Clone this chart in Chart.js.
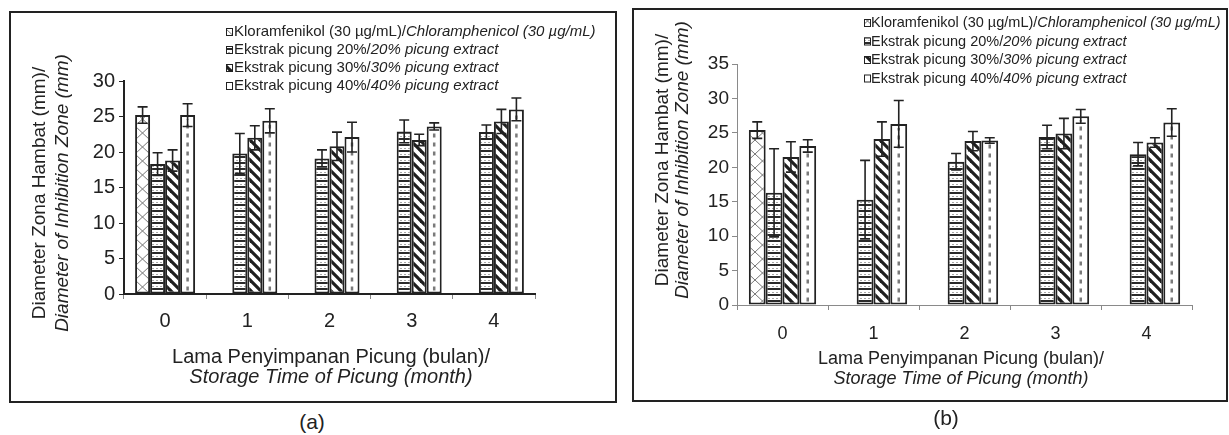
<!DOCTYPE html>
<html>
<head>
<meta charset="utf-8">
<script src="https://cdn.jsdelivr.net/npm/chart.js@4.4.1/dist/chart.umd.min.js"></script>
<style>
  html, body { margin: 0; padding: 0; background: #fff; }
  body { width: 1229px; height: 435px; position: relative; overflow: hidden; font-family: "Liberation Sans", Arial, sans-serif; }
  .frame { position: absolute; border: 2px solid #222; box-sizing: border-box; }
  #frameA { left: 9px; top: 11px; width: 608px; height: 392px; }
  #frameB { left: 632px; top: 8px; width: 596px; height: 394px; }
  canvas { position: absolute; top: 0; }
  #chartA { left: 0; }
  #chartB { left: 620px; }
  .tag { position: absolute; font-size: 21px; color: #222; transform: translate(-50%, -50%); }
</style>
</head>
<body>
<div class="frame" id="frameA"></div>
<div class="frame" id="frameB"></div>
<canvas id="chartA" width="620" height="410"></canvas>
<canvas id="chartB" width="609" height="410"></canvas>
<div class="tag" style="left:312px; top:422px;">(a)</div>
<div class="tag" style="left:946px; top:418px;">(b)</div>
<script>
const months = ['0', '1', '2', '3', '4'];
const legendMain = ['Kloramfenikol (30 µg/mL)/', 'Ekstrak picung 20%/', 'Ekstrak picung 30%/', 'Ekstrak picung 40%/'];
const legendItalic = ['Chloramphenicol (30 µg/mL)', '20% picung extract', '30% picung extract', '40% picung extract'];
const xTitle = ['Lama Penyimpanan Picung (bulan)/', 'Storage Time of Picung (month)'];
const yTitle = ['Diameter Zona Hambat (mm)/', 'Diameter of Inhibition Zone (mm)'];

// panel (a)
const aChlor = [25.2, null, null, null, null];
const aChlorSd = [1.15, null, null, null, null];
const a20 = [18.3, 19.8, 19.1, 22.9, 22.8];
const a20Sd = [1.6, 2.8, 1.2, 1.6, 1.0];
const a30 = [18.8, 22.0, 20.8, 21.7, 24.3];
const a30Sd = [1.5, 1.7, 2.0, 0.8, 1.7];
const a40 = [25.2, 24.4, 22.1, 23.6, 26.0];
const a40Sd = [1.6, 1.7, 2.1, 0.5, 1.6];
const aYMax = 30;

// panel (b)
const bChlor = [25.4, null, null, null, null];
const bChlorSd = [1.2, null, null, null, null];
const b20 = [16.3, 15.3, 20.8, 24.4, 21.9];
const b20Sd = [6.4, 5.7, 1.2, 1.7, 1.7];
const b30 = [21.5, 24.1, 23.8, 24.9, 23.6];
const b30Sd = [2.2, 2.5, 1.4, 2.2, 0.7];
const b40 = [23.1, 26.3, 23.9, 27.4, 26.5];
const b40Sd = [0.9, 3.4, 0.4, 1.0, 2.0];
const bYMax = 35;
const yStep = 5;

const FONT = '"Liberation Sans", Arial, sans-serif';
const INK = '#222';

function tile(w, h, draw) {
    const c = document.createElement('canvas');
    c.width = w;
    c.height = h;
    const g = c.getContext('2d');
    g.fillStyle = '#fff';
    g.fillRect(0, 0, w, h);
    draw(g);
    return g.createPattern(c, 'repeat');
}

// fills: chevron lattice, horizontal stripes, thick back-diagonals, plain white (dashes added later)
const fills = [
    tile(15, 14, g => {
        g.strokeStyle = '#777';
        g.lineWidth = 1;
        g.beginPath();
        g.moveTo(0, 0); g.lineTo(15, 14);
        g.moveTo(15, 0); g.lineTo(0, 14);
        g.stroke();
    }),
    tile(4, 6, g => {
        g.fillStyle = '#2a2a2a';
        g.fillRect(0, 0, 4, 2);
        g.fillStyle = '#a8a8a8';
        g.fillRect(0, 4, 2, 1);
    }),
    tile(10, 10, g => {
        g.strokeStyle = '#1e1e1e';
        g.lineWidth = 3.2;
        for (let k = -1; k <= 1; k++) {
            g.beginPath();
            g.moveTo(k * 10 - 1, -1);
            g.lineTo(k * 10 + 11, 11);
            g.stroke();
        }
    }),
    '#fff'
];

const barMarks = {
    id: 'barMarks',
    afterDatasetsDraw(chart) {
        const ctx = chart.ctx;
        const y = chart.scales.y;
        ctx.save();
        chart.data.datasets.forEach((ds, i) => {
            const meta = chart.getDatasetMeta(i);
            meta.data.forEach((bar, j) => {
                if (ds.data[j] == null || !ds.centerDash) return;
                ctx.strokeStyle = '#7a7a7a';
                ctx.lineWidth = 2.5;
                ctx.setLineDash([4, 5]);
                ctx.beginPath();
                ctx.moveTo(bar.x, bar.base - 3);
                ctx.lineTo(bar.x, bar.y + 4);
                ctx.stroke();
                ctx.setLineDash([]);
            });
        });
        chart.data.datasets.forEach((ds, i) => {
            const meta = chart.getDatasetMeta(i);
            meta.data.forEach((bar, j) => {
                const v = ds.data[j], e = ds.errors[j];
                if (v == null || e == null) return;
                const top = y.getPixelForValue(v + e);
                const bot = y.getPixelForValue(v - e);
                ctx.strokeStyle = INK;
                ctx.lineWidth = 1.6;
                ctx.beginPath();
                ctx.moveTo(bar.x, top); ctx.lineTo(bar.x, bot);
                ctx.moveTo(bar.x - 5, top); ctx.lineTo(bar.x + 5, top);
                ctx.moveTo(bar.x - 5, bot); ctx.lineTo(bar.x + 5, bot);
                ctx.stroke();
            });
        });
        ctx.restore();
    }
};

function panelText(t) {
    return {
        id: 'panelText',
        afterDraw(chart) {
            const ctx = chart.ctx;
            ctx.save();
            ctx.fillStyle = INK;
            ctx.textBaseline = 'middle';
            ctx.textAlign = 'center';

            // y title, two lines, second italic
            [0, 1].forEach(k => {
                ctx.save();
                ctx.translate(t.yTitleX[k], t.yTitleMid);
                ctx.rotate(-Math.PI / 2);
                ctx.font = (k ? 'italic ' : '') + t.yTitleSize + 'px ' + FONT;
                ctx.fillText(yTitle[k], 0, 0);
                ctx.restore();
            });

            // x title
            [0, 1].forEach(k => {
                ctx.font = (k ? 'italic ' : '') + t.xTitleSize + 'px ' + FONT;
                ctx.fillText(xTitle[k], t.xTitleMid, t.xTitleY[k]);
            });

            // legend
            ctx.textAlign = 'left';
            legendMain.forEach((label, k) => {
                const ry = t.legendY + k * t.legendStep;
                ctx.fillStyle = fills[k];
                ctx.fillRect(t.legendBoxX, ry - 4, 6, 7);
                ctx.strokeStyle = INK;
                ctx.lineWidth = 1;
                ctx.strokeRect(t.legendBoxX + 0.5, ry - 3.5, 6, 7);
                ctx.fillStyle = INK;
                ctx.font = t.legendSize + 'px ' + FONT;
                ctx.fillText(label, t.legendTextX, ry);
                const w = ctx.measureText(label).width;
                ctx.font = 'italic ' + t.legendSize + 'px ' + FONT;
                ctx.fillText(legendItalic[k], t.legendTextX + w, ry);
            });
            ctx.restore();
        }
    };
}

function makePanel(id, series, errors, yMax, lay) {
    const datasets = series.map((data, k) => ({
        label: legendMain[k] + legendItalic[k],
        data: data,
        errors: errors[k],
        centerDash: k === 3,
        backgroundColor: fills[k],
        borderColor: INK,
        borderWidth: 2,
        borderSkipped: false,
        barPercentage: 1,
        categoryPercentage: lay.catPct
    }));

    return new Chart(document.getElementById(id), {
        type: 'bar',
        data: { labels: months, datasets: datasets },
        options: {
            responsive: false,
            animation: false,
            devicePixelRatio: 1,
            layout: { padding: { left: 0, top: lay.top, right: lay.right, bottom: 0 } },
            plugins: { legend: { display: false }, tooltip: { enabled: false } },
            scales: {
                x: {
                    grid: { drawOnChartArea: false, color: '#888', tickLength: 5 },
                    border: { color: lay.axisColor, width: lay.axisWidth },
                    ticks: { color: INK, font: { family: FONT, size: lay.xTickSize }, padding: lay.xTickPad },
                    afterFit(s) { s.height = lay.xHeight; }
                },
                y: {
                    min: 0,
                    max: yMax,
                    grid: { drawOnChartArea: false, color: lay.axisColor, tickLength: 5 },
                    border: { color: lay.axisColor, width: lay.axisWidth },
                    ticks: { stepSize: yStep, color: INK, font: { family: FONT, size: lay.yTickSize }, padding: lay.yTickPad },
                    afterFit(s) { s.width = lay.yWidth; }
                }
            }
        },
        plugins: [barMarks, panelText(lay.text)]
    });
}

makePanel('chartA',
    [aChlor, a20, a30, a40],
    [aChlorSd, a20Sd, a30Sd, a40Sd],
    aYMax,
    {
        catPct: 0.73, top: 81, right: 85, xHeight: 116, yWidth: 124,
        axisColor: '#222', axisWidth: 2, xTickSize: 20, yTickSize: 20, xTickPad: 10, yTickPad: 4,
        text: {
            yTitleX: [40, 63], yTitleMid: 193, yTitleSize: 19,
            xTitleMid: 331, xTitleY: [357, 377], xTitleSize: 20,
            legendBoxX: 226, legendTextX: 234, legendY: 32, legendStep: 18, legendSize: 15
        }
    });

makePanel('chartB',
    [bChlor, b20, b30, b40],
    [bChlorSd, b20Sd, b30Sd, b40Sd],
    bYMax,
    {
        catPct: 0.74, top: 64, right: 37, xHeight: 105, yWidth: 117,
        axisColor: '#8a8a8a', axisWidth: 1, xTickSize: 18, yTickSize: 19, xTickPad: 13, yTickPad: 3,
        text: {
            yTitleX: [43, 63], yTitleMid: 160, yTitleSize: 19,
            xTitleMid: 341, xTitleY: [359, 379], xTitleSize: 18,
            legendBoxX: 244, legendTextX: 251, legendY: 23, legendStep: 18.5, legendSize: 14.5
        }
    });
</script>
</body>
</html>
